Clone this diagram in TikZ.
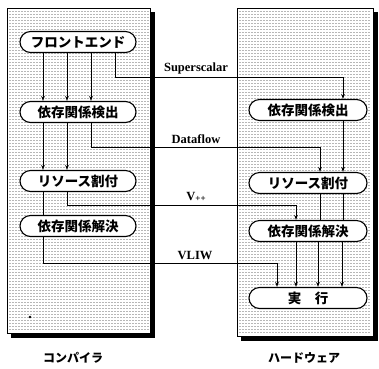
\documentclass[tikz,border=0pt]{standalone}
\usepackage{fontspec}
\setmainfont{Liberation Serif}
\newfontfamily\jp{Noto Sans CJK JP}
\usetikzlibrary{shapes.misc,arrows.meta}
\tikzset{
  shadowbar/.style={draw=black,line width=5pt,line cap=butt,line join=miter},
  panel/.style={draw=black,line width=0.9pt,fill=white},
  dotink/.style={fill=black!80},
  stage/.style={rounded rectangle,draw=black,line width=1.1pt,fill=white,minimum height=21,inner sep=1pt,font=\jp\bfseries\fontsize{13.5}{15}\selectfont},
  lstage/.style={stage,minimum width=118},
  rstage/.style={stage,minimum width=120},
  conn/.style={draw=black,line width=0.9pt},
  arr/.style={conn,-{Stealth[length=5pt,width=3.6pt]}},
  archlabel/.style={font=\bfseries\fontsize{12.5}{14}\selectfont,inner sep=0pt},
  sidelabel/.style={font=\jp\bfseries\fontsize{12}{14}\selectfont,inner sep=0pt}
}
\begin{document}
\begin{tikzpicture}[x=1pt,y=-1pt]
\useasboundingbox (0,0) rectangle (379,368);
% panels
\draw[panel] (7,8) rectangle (150,333);
\draw[panel] (237,8) rectangle (373,336);
% shadows
\draw[shadowbar] (152.5,12) -- (152.5,335.5) -- (11,335.5);
\draw[shadowbar] (375,12) -- (375,338.5) -- (241,338.5);
% dot screen
\foreach \yy in {11,14,...,331} {
  \fill[dotink] \foreach \xx in {9.5,12.5,...,148} {(\xx,\yy) rectangle ++(0.9,0.9)};
}
\foreach \yy in {11,14,...,334} {
  \fill[dotink] \foreach \xx in {239.5,242.5,...,371} {(\xx,\yy) rectangle ++(0.9,0.9)};
}
\fill (30,317) circle (1.3);
% compiler stages
\node[lstage] (fe) at (78,42) {フロントエンド};
\node[lstage] (ld) at (78,112) {依存関係検出};
\node[lstage] (lr) at (78,181) {リソース割付};
\node[lstage] (ls) at (78,226) {依存関係解決};
% hardware stages
\node[rstage] (rd) at (308,110) {依存関係検出};
\node[rstage] (rr) at (308,183) {リソース割付};
\node[rstage] (rs) at (308,231) {依存関係解決};
\node[rstage] (rx) at (308,298) {実\hspace{1em}行};
% labels
\node[archlabel] (lss) at (196,68) {Superscalar};
\node[archlabel] (ldf) at (196,139) {Dataflow};
\node[archlabel] (lvp) at (196,197) {V\raisebox{-1.5pt}{\fontsize{9}{10}\selectfont ++}};
\node[archlabel] (lvl) at (195,255) {VLIW};
\node[sidelabel] (comp) at (73,358) {コンパイラ};
\node[sidelabel] (hw) at (304,358) {ハードウェア};
% compiler internal
\draw[arr] (fe.south -| 43,0) -- (ld.north -| 43,0);
\draw[arr] (fe.south -| 67,0) -- (ld.north -| 67,0);
\draw[arr] (fe.south -| 91,0) -- (ld.north -| 91,0);
\draw[arr] (ld.south -| 43,0) -- (lr.north -| 43,0);
\draw[arr] (ld.south -| 67,0) -- (lr.north -| 67,0);
\draw[conn] (lr.south -| 43,0) -- (ls.north -| 43,0);
% crossings
\draw[arr] (fe.south -| 115,0) |- (343,77) -- (rd.north -| 343,0);
\draw[arr] (ld.south -| 91,0) |- (320,147) -- (rr.north -| 320,0);
\draw[arr] (lr.south -| 67,0) |- (296,205) -- (rs.north -| 296,0);
\draw[arr] (ls.south -| 43,0) |- (277,263) -- (rx.north -| 277,0);
% hardware internal
\draw[arr] (rd.south -| 343,0) -- (rr.north -| 343,0);
\draw[conn] (rr.south -| 320,0) -- (rs.north -| 320,0);
\draw[conn] (rr.south -| 343,0) -- (rs.north -| 343,0);
\draw[arr] (rs.south -| 296,0) -- (rx.north -| 296,0);
\draw[arr] (rs.south -| 318,0) -- (rx.north -| 318,0);
\draw[arr] (rs.south -| 342,0) -- (rx.north -| 342,0);
\end{tikzpicture}
\end{document}
